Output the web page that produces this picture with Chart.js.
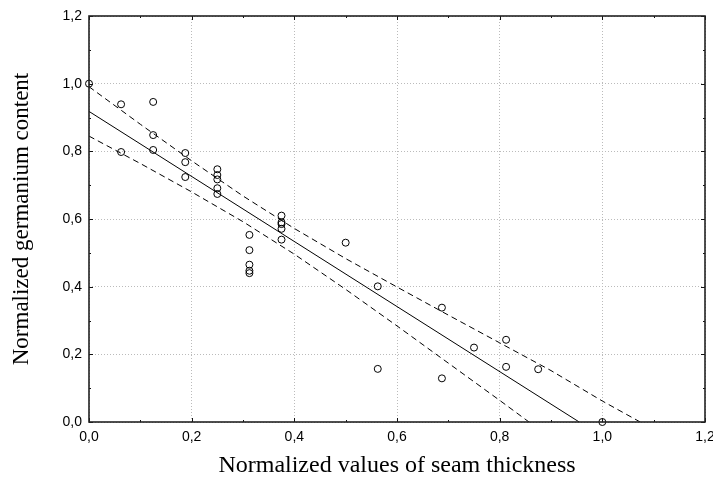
<!DOCTYPE html>
<html lang="en">
<head>
  <meta charset="UTF-8">
  <title>Germanium content vs seam thickness</title>
  <script src="https://cdn.jsdelivr.net/npm/chart.js"></script>
  <style>
    html, body { margin: 0; padding: 0; background: #fff; }
    #wrap { width: 713px; height: 490px; }
  </style>
</head>
<body>
  <div id="wrap"><canvas id="chartGe"></canvas></div>
  <script>
    // observed points (normalized thickness, normalized Ge content)
    const pointX = [0, 0.0625, 0.0625, 0.125, 0.125, 0.125, 0.1875, 0.1875, 0.1875,
      0.25, 0.25, 0.25, 0.25, 0.25, 0.3125, 0.3125, 0.3125, 0.3125, 0.3125,
      0.375, 0.375, 0.375, 0.375, 0.375, 0.5, 0.5625, 0.5625, 0.6875, 0.6875,
      0.75, 0.8125, 0.8125, 0.875, 1.0];
    const pointY = [1.0, 0.939, 0.798, 0.946, 0.848, 0.804, 0.795, 0.768, 0.724,
      0.747, 0.730, 0.717, 0.691, 0.674, 0.553, 0.508, 0.465, 0.447, 0.440,
      0.610, 0.590, 0.585, 0.571, 0.539, 0.530, 0.401, 0.157, 0.338, 0.129,
      0.220, 0.243, 0.163, 0.156, 0.0];

    // regression line (end points)
    const fitX = [0, 0.955];
    const fitY = [0.918, 0];

    // confidence band, read at 0.1 steps
    const bandX = [0, 0.1, 0.2, 0.3, 0.4, 0.5, 0.6, 0.7, 0.8, 0.9, 1.0, 1.1];
    const upperBand = [0.991, 0.880, 0.772, 0.668, 0.572, 0.483, 0.399, 0.316, 0.234, 0.152, 0.062, -0.022];
    const lowerBand = [0.845, 0.764, 0.680, 0.592, 0.496, 0.392, 0.284, 0.174, 0.064, -0.048, null, null];

    const tickLabels = ['0,0', '0,2', '0,4', '0,6', '0,8', '1,0', '1,2'];

    const pts = (xs, ys) => xs.map((x, i) => ({ x: x, y: ys[i] }));

    // frame around the plot with inward ticks on all four sides
    const frame = {
      id: 'frame',
      afterDraw(chart) {
        const { ctx, chartArea: a, scales } = chart;
        ctx.save();
        ctx.strokeStyle = '#111';
        ctx.lineWidth = 1;
        for (let i = 0; i <= 12; i++) {
          const v = i / 10;
          const len = i % 2 === 0 ? 4 : 2;
          const px = Math.round(scales.x.getPixelForValue(v)) + 0.5;
          const py = Math.round(scales.y.getPixelForValue(v)) + 0.5;
          ctx.beginPath();
          ctx.moveTo(px, a.bottom); ctx.lineTo(px, a.bottom - len);
          ctx.moveTo(px, a.top); ctx.lineTo(px, a.top + len);
          ctx.moveTo(a.left, py); ctx.lineTo(a.left + len, py);
          ctx.moveTo(a.right, py); ctx.lineTo(a.right - len, py);
          ctx.stroke();
        }
        ctx.lineWidth = 1.6;
        ctx.strokeStyle = '#222';
        ctx.strokeRect(a.left, a.top, a.right - a.left, a.bottom - a.top);
        ctx.restore();
      }
    };

    const ctxGe = document.getElementById('chartGe').getContext('2d');
    const chartGe = new Chart(ctxGe, {
      type: 'scatter',
      data: {
        datasets: [
          {
            label: 'data',
            data: pts(pointX, pointY),
            pointRadius: 3.5,
            pointHoverRadius: 3.5,
            pointBorderWidth: 1,
            borderColor: '#000',
            backgroundColor: 'rgba(0,0,0,0)',
            clip: false
          },
          {
            label: 'fit',
            data: pts(fitX, fitY),
            showLine: true,
            pointRadius: 0,
            borderColor: '#000',
            borderWidth: 1
          },
          {
            label: 'upper',
            data: pts(bandX, upperBand),
            showLine: true,
            pointRadius: 0,
            borderColor: '#000',
            borderWidth: 1,
            borderDash: [6, 4]
          },
          {
            label: 'lower',
            data: pts(bandX, lowerBand),
            showLine: true,
            spanGaps: false,
            pointRadius: 0,
            borderColor: '#000',
            borderWidth: 1,
            borderDash: [6, 4]
          }
        ]
      },
      options: {
        responsive: true,
        maintainAspectRatio: false,
        animation: false,
        layout: { padding: { top: 16, right: 0, left: 0, bottom: 0 } },
        plugins: { legend: { display: false }, tooltip: { enabled: false } },
        scales: {
          x: {
            type: 'linear', min: 0, max: 1.2,
            afterFit: s => { s.height = 68; s.paddingRight = 8; s.paddingLeft = 0; },
            ticks: {
              stepSize: 0.2, padding: 7, color: '#000',
              font: { family: 'Liberation Sans', size: 14 },
              callback: (v) => tickLabels[Math.round(v * 5)]
            },
            grid: { color: '#bbb', drawTicks: false },
            border: { display: false, dash: [1, 2] },
            title: {
              display: true, text: 'Normalized values of seam thickness',
              color: '#000', font: { family: 'Liberation Serif', size: 24 },
              padding: { top: 0, bottom: 10 }
            }
          },
          y: {
            type: 'linear', min: 0, max: 1.2,
            afterFit: s => { s.width = 89; s.paddingTop = 0; s.paddingBottom = 0; },
            ticks: {
              stepSize: 0.2, padding: 7, color: '#000',
              font: { family: 'Liberation Sans', size: 14 },
              callback: (v) => tickLabels[Math.round(v * 5)]
            },
            grid: { color: '#bbb', drawTicks: false },
            border: { display: false, dash: [1, 2] },
            title: {
              display: true, text: 'Normalized germanium content',
              color: '#000', font: { family: 'Liberation Serif', size: 23 },
              padding: { top: 8, bottom: 0 }
            }
          }
        }
      },
      plugins: [frame]
    });
  </script>
</body>
</html>
